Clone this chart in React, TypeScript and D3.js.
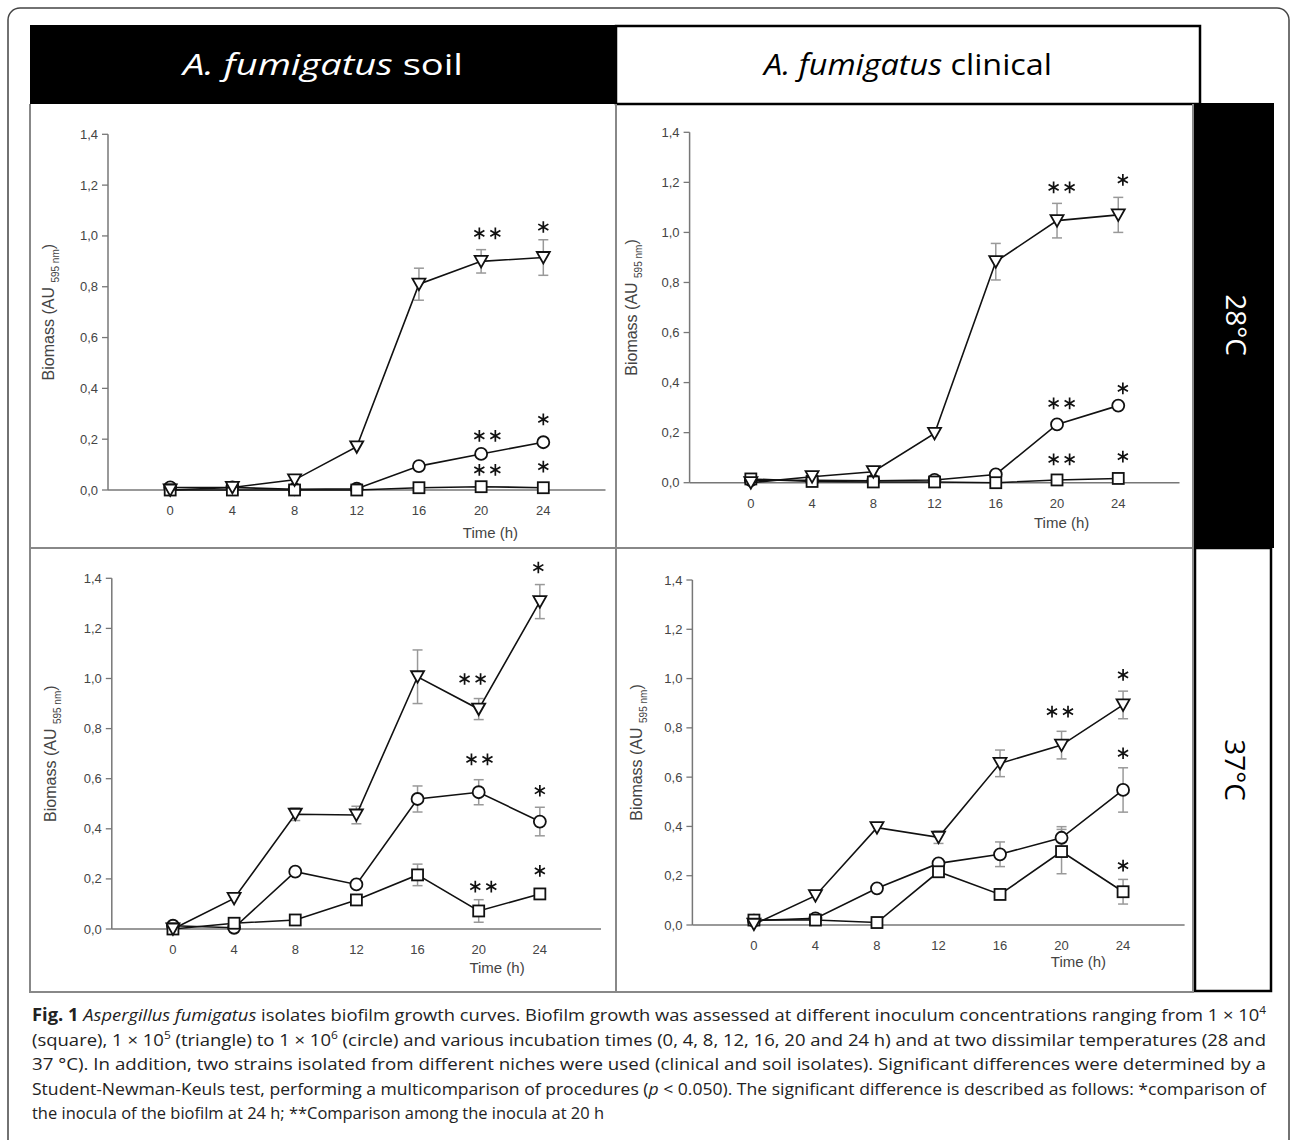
import React from "react";
import * as d3 from "d3";

const HOURS = [0, 4, 8, 12, 16, 20, 24];
const Y_TICKS = [0, 0.2, 0.4, 0.6, 0.8, 1.0, 1.2, 1.4];

// soil isolate, 28 °C
const soil28Tri = [0.0, 0.01, 0.04, 0.17, 0.81, 0.9, 0.915];
const soil28TriErr = [0, 0, 0, 0, 0.063, 0.046, 0.07];
const soil28Circ = [0.01, 0.01, 0.003, 0.005, 0.094, 0.142, 0.188];
const soil28CircErr = [0, 0, 0, 0, 0, 0, 0];
const soil28Sq = [0.0, 0.0, 0.0, 0.0, 0.009, 0.013, 0.009];
const soil28SqErr = [0, 0, 0, 0, 0, 0, 0];
// [hours, value, number of asterisks]
const soil28Stars = [[20.4, 1.01, 2], [24, 1.035, 1], [20.4, 0.213, 2], [24, 0.278, 1], [20.4, 0.079, 2], [24, 0.092, 1]];

// clinical isolate, 28 °C
const clin28Tri = [0.0, 0.024, 0.044, 0.197, 0.883, 1.047, 1.07];
const clin28TriErr = [0, 0, 0, 0, 0.073, 0.069, 0.07];
const clin28Circ = [0.01, 0.01, 0.008, 0.011, 0.033, 0.233, 0.308];
const clin28CircErr = [0, 0, 0, 0, 0, 0, 0];
const clin28Sq = [0.015, 0.005, 0.003, 0.003, 0.0, 0.011, 0.017];
const clin28SqErr = [0, 0, 0, 0, 0, 0, 0];
const clin28Stars = [[20.3, 1.18, 2], [24.3, 1.21, 1], [20.3, 0.317, 2], [24.3, 0.377, 1], [20.3, 0.093, 2], [24.3, 0.104, 1]];

// soil isolate, 37 °C
const soil37Tri = [0.0, 0.122, 0.458, 0.455, 1.007, 0.878, 1.307];
const soil37TriErr = [0, 0, 0.025, 0.035, 0.107, 0.042, 0.068];
const soil37Circ = [0.013, 0.005, 0.229, 0.178, 0.519, 0.546, 0.429];
const soil37CircErr = [0, 0, 0, 0, 0.052, 0.05, 0.057];
const soil37Sq = [0.0, 0.023, 0.036, 0.116, 0.216, 0.072, 0.14];
const soil37SqErr = [0, 0, 0, 0, 0.043, 0.045, 0];
const soil37Stars = [[23.9, 1.443, 1], [19.6, 0.998, 2], [20.05, 0.677, 2], [24, 0.552, 1], [24, 0.232, 1], [20.3, 0.169, 2]];

// clinical isolate, 37 °C
const clin37Tri = [0.003, 0.119, 0.395, 0.356, 0.656, 0.73, 0.893];
const clin37TriErr = [0, 0, 0, 0.025, 0.054, 0.056, 0.056];
const clin37Circ = [0.018, 0.027, 0.149, 0.25, 0.287, 0.354, 0.548];
const clin37CircErr = [0, 0, 0, 0, 0.05, 0.045, 0.09];
const clin37Sq = [0.02, 0.02, 0.01, 0.216, 0.124, 0.298, 0.135];
const clin37SqErr = [0, 0, 0, 0, 0, 0.09, 0.05];
const clin37Stars = [[24, 1.015, 1], [19.9, 0.866, 2], [24, 0.697, 1], [24, 0.241, 1]];

const AXIS_FONT = "'Liberation Sans', Arial, sans-serif";
const TEXT_FONT = "'Open Sans', 'Noto Sans', sans-serif";

const panels = [
  { left: 108, right: 605.5, top: 134.3, bottom: 490, yLabelX: 54, timeH: 20.6, timeDy: 48,
    tri: soil28Tri, triErr: soil28TriErr, circ: soil28Circ, circErr: soil28CircErr, sq: soil28Sq, sqErr: soil28SqErr, stars: soil28Stars },
  { left: 689.6, right: 1179.5, top: 132.3, bottom: 482.7, yLabelX: 637, timeH: 20.3, timeDy: 45,
    tri: clin28Tri, triErr: clin28TriErr, circ: clin28Circ, circErr: clin28CircErr, sq: clin28Sq, sqErr: clin28SqErr, stars: clin28Stars },
  { left: 111.8, right: 601, top: 578.3, bottom: 929, yLabelX: 56, timeH: 21.2, timeDy: 44,
    tri: soil37Tri, triErr: soil37TriErr, circ: soil37Circ, circErr: soil37CircErr, sq: soil37Sq, sqErr: soil37SqErr, stars: soil37Stars },
  { left: 692.4, right: 1184.6, top: 580, bottom: 925, yLabelX: 642, timeH: 21.1, timeDy: 42,
    tri: clin37Tri, triErr: clin37TriErr, circ: clin37Circ, circErr: clin37CircErr, sq: clin37Sq, sqErr: clin37SqErr, stars: clin37Stars },
];

const fmt = (v: number) => d3.format(".1f")(v).replace(".", ",");
const asterisk = d3.symbol(d3.symbolAsterisk, 95)() as string;

function Marker({ shape, cx, cy }: { shape: string; cx: number; cy: number }) {
  const st = { fill: "#fff", stroke: "#111", strokeWidth: 1.8 };
  if (shape === "circ") return <circle cx={cx} cy={cy} r={6} {...st} />;
  if (shape === "sq") return <rect x={cx - 5.5} y={cy - 5.5} width={11} height={11} {...st} />;
  return <path d={`M${cx - 6.5},${cy - 5.5}L${cx + 6.5},${cy - 5.5}L${cx},${cy + 6}Z`} {...st} />;
}

function Panel({ p }: { p: any }) {
  const x = d3.scaleLinear().domain([-4, 28]).range([p.left, p.right]);
  const y = d3.scaleLinear().domain([0, 1.4]).range([p.bottom, p.top]);
  const line = d3.line<number>().x((_, i) => x(HOURS[i])).y((v) => y(v));
  const series = [
    { shape: "circ", vals: p.circ, err: p.circErr },
    { shape: "sq", vals: p.sq, err: p.sqErr },
    { shape: "tri", vals: p.tri, err: p.triErr },
  ];
  return (
    <g>
      {/* axes */}
      <line x1={p.left} x2={p.left} y1={p.top} y2={p.bottom} stroke="#777" strokeWidth={1.5} />
      <line x1={p.left} x2={p.right} y1={p.bottom} y2={p.bottom} stroke="#777" strokeWidth={1.5} />
      {Y_TICKS.map((t) => (
        <g key={t}>
          <line x1={p.left - 6} x2={p.left} y1={y(t)} y2={y(t)} stroke="#777" strokeWidth={1.3} />
          <text x={p.left - 10} y={y(t)} dy="0.35em" textAnchor="end" fontSize={13} fill="#444" fontFamily={AXIS_FONT}>
            {fmt(t)}
          </text>
        </g>
      ))}
      {HOURS.map((h) => (
        <text key={h} x={x(h)} y={p.bottom + 25} textAnchor="middle" fontSize={13} fill="#444" fontFamily={AXIS_FONT}>
          {h}
        </text>
      ))}
      <text x={x(p.timeH)} y={p.bottom + p.timeDy} textAnchor="middle" fontSize={15} fill="#444" fontFamily={AXIS_FONT}>
        Time (h)
      </text>
      <text transform={`translate(${p.yLabelX},${(p.top + p.bottom) / 2}) rotate(-90)`} textAnchor="middle"
        fontSize={16} fill="#444" fontFamily={AXIS_FONT}>
        Biomass (AU <tspan fontSize={10} dy={5}>595 nm</tspan><tspan dy={-5}>)</tspan>
      </text>
      {/* error bars */}
      {series.map((s) =>
        s.vals.map((v: number, i: number) =>
          s.err[i] > 0 ? (
            <g key={s.shape + i} stroke="#999" strokeWidth={1.5}>
              <line x1={x(HOURS[i])} x2={x(HOURS[i])} y1={y(v - s.err[i])} y2={y(v + s.err[i])} />
              <line x1={x(HOURS[i]) - 5} x2={x(HOURS[i]) + 5} y1={y(v + s.err[i])} y2={y(v + s.err[i])} />
              <line x1={x(HOURS[i]) - 5} x2={x(HOURS[i]) + 5} y1={y(v - s.err[i])} y2={y(v - s.err[i])} />
            </g>
          ) : null
        )
      )}
      {/* series */}
      {series.map((s) => (
        <g key={s.shape}>
          <path d={line(s.vals) as string} fill="none" stroke="#111" strokeWidth={1.6} />
          {s.vals.map((v: number, i: number) => (
            <Marker key={i} shape={s.shape} cx={x(HOURS[i])} cy={y(v)} />
          ))}
        </g>
      ))}
      {/* significance marks */}
      {p.stars.map(([h, v, n]: number[], i: number) =>
        (n === 2 ? [-8, 8] : [0]).map((dx) => (
          <path key={i + "_" + dx} d={asterisk} transform={`translate(${x(h) + dx},${y(v)})`}
            fill="none" stroke="#111" strokeWidth={1.7} />
        ))
      )}
    </g>
  );
}

const CAP_X = 32;
const CAP_W = 1234;
const CAP_Y0 = 1021;
const CAP_DY = 24.5;

export default function App() {
  return (
    <svg width={1290} height={1140} style={{ position: "absolute", left: 0, top: 0, background: "#fff" }}>
      <rect x={8} y={8} width={1281} height={1160} rx={12} fill="#fff" stroke="#444" strokeWidth={1.5} />

      {/* column headers */}
      <rect x={30} y={25} width={586} height={79} fill="#000" />
      <rect x={616} y={26} width={584} height={78} fill="#fff" stroke="#000" strokeWidth={2.5} />
      <text x={323} y={75} textAnchor="middle" fill="#fff" fontSize={29} fontFamily={TEXT_FONT}
        textLength={280} lengthAdjust="spacingAndGlyphs">
        <tspan fontStyle="italic">A. fumigatus</tspan> soil
      </text>
      <text x={908} y={75} textAnchor="middle" fill="#000" fontSize={29} fontFamily={TEXT_FONT}
        textLength={288} lengthAdjust="spacingAndGlyphs">
        <tspan fontStyle="italic">A. fumigatus</tspan> clinical
      </text>

      {/* row labels */}
      <rect x={1193} y={103} width={81} height={445} fill="#000" />
      <rect x={1195} y={548} width={76} height={443} fill="#fff" stroke="#000" strokeWidth={2.5} />
      <text transform="translate(1226,325) rotate(90)" textAnchor="middle" fill="#fff" fontSize={28} fontFamily={TEXT_FONT}>
        28°C
      </text>
      <text transform="translate(1225,770) rotate(90)" textAnchor="middle" fill="#000" fontSize={28} fontFamily={TEXT_FONT}>
        37°C
      </text>

      {/* panel grid */}
      <g stroke="#888" strokeWidth={2}>
        <line x1={30} x2={30} y1={104} y2={993} />
        <line x1={616} x2={616} y1={104} y2={993} />
        <line x1={1193} x2={1193} y1={104} y2={993} />
        <line x1={30} x2={1193} y1={548} y2={548} />
        <line x1={30} x2={1193} y1={992} y2={992} />
      </g>

      {panels.map((p, i) => (
        <Panel key={i} p={p} />
      ))}

      {/* caption */}
      <g fontFamily={TEXT_FONT} fontSize={17} fill="#222">
        <text x={CAP_X} y={CAP_Y0} textLength={CAP_W} lengthAdjust="spacingAndGlyphs">
          <tspan fontWeight="bold">Fig. 1</tspan> <tspan fontStyle="italic">Aspergillus fumigatus</tspan> isolates biofilm
          growth curves. Biofilm growth was assessed at different inoculum concentrations ranging from 1 × 10
          <tspan dy={-7} fontSize={11}>4</tspan>
        </text>
        <text x={CAP_X} y={CAP_Y0 + CAP_DY} textLength={CAP_W} lengthAdjust="spacingAndGlyphs">
          (square), 1 × 10<tspan dy={-7} fontSize={11}>5</tspan>
          <tspan dy={7}> (triangle) to 1 × 10</tspan>
          <tspan dy={-7} fontSize={11}>6</tspan>
          <tspan dy={7}> (circle) and various incubation times (0, 4, 8, 12, 16, 20 and 24 h) and at two dissimilar
            temperatures (28 and</tspan>
        </text>
        <text x={CAP_X} y={CAP_Y0 + CAP_DY * 2} textLength={CAP_W} lengthAdjust="spacingAndGlyphs">
          37 °C). In addition, two strains isolated from different niches were used (clinical and soil isolates). Significant
          differences were determined by a
        </text>
        <text x={CAP_X} y={CAP_Y0 + CAP_DY * 3} textLength={CAP_W} lengthAdjust="spacingAndGlyphs">
          Student-Newman-Keuls test, performing a multicomparison of procedures (<tspan fontStyle="italic">p</tspan> &lt; 0.050).
          The significant difference is described as follows: *comparison of
        </text>
        <text x={CAP_X} y={CAP_Y0 + CAP_DY * 4} textLength={572} lengthAdjust="spacingAndGlyphs">
          the inocula of the biofilm at 24 h; **Comparison among the inocula at 20 h
        </text>
      </g>
    </svg>
  );
}
